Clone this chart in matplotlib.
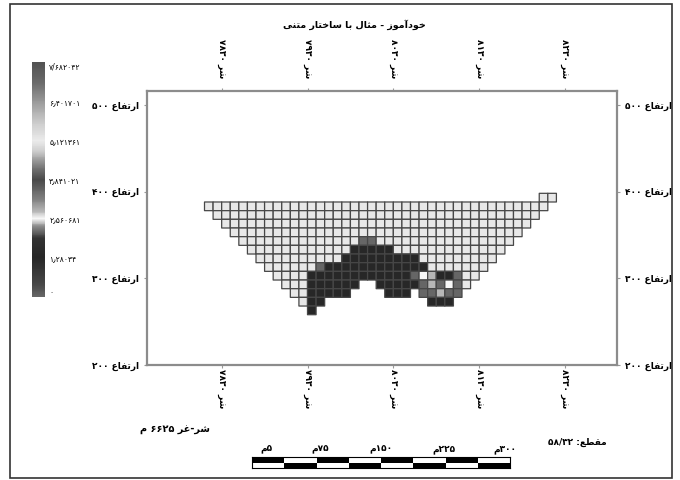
import re
import numpy as np
import matplotlib
matplotlib.use("Agg")
import matplotlib.pyplot as plt
from matplotlib.colors import LinearSegmentedColormap, Normalize
from matplotlib.patches import Rectangle

plt.rcParams['font.family'] = ['DejaVu Sans']

# ---- data -------------------------------------------------------------
title = "خودآموز - مثال با ساختار متنی"
x_ticks = [7830, 7930, 8030, 8130, 8230]
x_tick_labels = ["شر ۷۸۳۰", "شر ۷۹۳۰", "شر ۸۰۳۰", "شر ۸۱۳۰", "شر ۸۲۳۰"]
y_ticks = [200, 300, 400, 500]
y_tick_labels = ["ارتفاع ۲۰۰", "ارتفاع ۳۰۰", "ارتفاع ۴۰۰", "ارتفاع ۵۰۰"]
cbar_ticks = [0, 1.28034, 2.560681, 3.841021, 5.121361, 6.401701, 7.682042]
cbar_labels = ["۰", "۱٫۲۸۰۳۴", "۲٫۵۶۰۶۸۱", "۳٫۸۴۱۰۲۱", "۵٫۱۲۱۳۶۱", "۶٫۴۰۱۷۰۱", "۷/۶۸۲۰۴۲"]
scale_labels = ["۵م", "۷۵م", "۱۵۰م", "۲۲۵م", "۳۰۰م"]
length_text = "شر-غر ۶۶۲۵ م"
section_text = "مقطع: ۵۸/۳۲"

# cell grid: 10 m cells, first column at x=7810, top row starts at y=398
x0, y_top, cell = 7810, 398, 10
grid_rows = [
    "......................................." + "LL",
    "LLLLLLLLLLLLLLLLLLLLLLLLLLLLLLLLLLLLLLLL" + ".",
    "." + "L" * 38 + "..",
    ".." + "L" * 36 + "...",
    "..." + "L" * 34 + "....",
    "...." + "L" * 14 + "GG" + "L" * 16 + ".....",
    "....." + "L" * 12 + "DDDDD" + "L" * 13 + "......",
    "......" + "L" * 10 + "DDDDDDDDD" + "L" * 9 + ".......",
    "......." + "LLLLLL" + "G" + "D" * 12 + "L" * 7 + "........",
    "........" + "LLLL" + "D" * 12 + "GWgDDG" + "LL" + ".........",
    "........." + "LLL" + "DDDDDD" + ".." + "DDDDD" + "GgGWG" + "L" + "..........",
    ".........." + "LL" + "DDDDD" + "...." + "DDD" + "." + "GGgGG" + "...........",
    "..........." + "L" + "DD" + "." * 12 + "DDD" + "............",
    "............" + "D" + "." * 28,
]
code_values = {"L": 5.1, "D": 1.28, "G": 3.5, "g": 2.8, "W": 2.56}

# colour ramp of the legend (value, grey level)
ramp_vals = [0, 0.4, 1.28, 1.9, 2.3, 2.56, 2.8, 3.2, 3.84, 4.3, 4.8, 5.12, 5.7, 6.4, 7.0, 7.682042]
ramp_grey = [0.40, 0.28, 0.15, 0.20, 0.55, 0.97, 0.72, 0.50, 0.28, 0.50, 0.82, 0.92, 0.80, 0.60, 0.42, 0.32]

# ---- persian text helper (matplotlib draws glyphs left to right, unjoined) ----
FORMS = {
    'ا': ('\uFE8D', '\uFE8E', None, None), 'آ': ('\uFE81', '\uFE82', None, None),
    'ب': ('\uFE8F', '\uFE90', '\uFE91', '\uFE92'), 'ت': ('\uFE95', '\uFE96', '\uFE97', '\uFE98'),
    'ث': ('\uFE99', '\uFE9A', '\uFE9B', '\uFE9C'), 'خ': ('\uFEA5', '\uFEA6', '\uFEA7', '\uFEA8'),
    'د': ('\uFEA9', '\uFEAA', None, None), 'ر': ('\uFEAD', '\uFEAE', None, None),
    'ز': ('\uFEAF', '\uFEB0', None, None), 'س': ('\uFEB1', '\uFEB2', '\uFEB3', '\uFEB4'),
    'ش': ('\uFEB5', '\uFEB6', '\uFEB7', '\uFEB8'), 'ط': ('\uFEC1', '\uFEC2', '\uFEC3', '\uFEC4'),
    'ع': ('\uFEC9', '\uFECA', '\uFECB', '\uFECC'), 'غ': ('\uFECD', '\uFECE', '\uFECF', '\uFED0'),
    'ف': ('\uFED1', '\uFED2', '\uFED3', '\uFED4'), 'ق': ('\uFED5', '\uFED6', '\uFED7', '\uFED8'),
    'ل': ('\uFEDD', '\uFEDE', '\uFEDF', '\uFEE0'), 'م': ('\uFEE1', '\uFEE2', '\uFEE3', '\uFEE4'),
    'ن': ('\uFEE5', '\uFEE6', '\uFEE7', '\uFEE8'), 'و': ('\uFEED', '\uFEEE', None, None),
    'ی': ('\uFBFC', '\uFBFD', '\uFBFE', '\uFBFF'),
}


def fa(s):
    out = []
    for i, ch in enumerate(s):
        f = FORMS.get(ch)
        if f is None:
            out.append(ch)
            continue
        prev = s[i - 1] if i > 0 else ''
        nxt = s[i + 1] if i + 1 < len(s) else ''
        pj = prev in FORMS and FORMS[prev][2] is not None
        nj = f[2] is not None and nxt in FORMS
        out.append(f[3] if pj and nj else f[1] if pj else f[2] if nj else f[0])
    vis = ''.join(out)[::-1]
    return re.sub(r'[۰-۹][۰-۹/٫,]*', lambda m: m.group(0)[::-1], vis)


# ---- build grid -------------------------------------------------------
ncol = len(grid_rows[0])
Z = np.full((len(grid_rows), ncol), np.nan)
for r, row in enumerate(grid_rows):
    assert len(row) == ncol, (r, len(row))
    for c, ch in enumerate(row):
        if ch in code_values:
            Z[r, c] = code_values[ch]
xe = x0 + cell * np.arange(ncol + 1)
ye = y_top - cell * np.arange(len(grid_rows) + 1)

cmap = LinearSegmentedColormap.from_list(
    "legend", [(v / ramp_vals[-1], (g, g, g)) for v, g in zip(ramp_vals, ramp_grey)])
norm = Normalize(0, ramp_vals[-1])

W, H = 680, 480
fig = plt.figure(figsize=(6.8, 4.8), dpi=100)


def box(l, t, r, b):
    return [l / W, 1 - b / H, (r - l) / W, (b - t) / H]


ax = fig.add_axes(box(147, 91, 617, 365))
ax.pcolor(xe, ye, np.ma.masked_invalid(Z), cmap=cmap, norm=norm,
          edgecolors='#474747', linewidth=0.9)
ax.set_xlim(7743, 8290.6)
ax.set_ylim(200, 516)

ax.set_yticks(y_ticks)
ax.set_yticklabels([fa(t) for t in y_tick_labels], fontsize=6.5, weight='bold')
ax.tick_params(axis='y', left=True, right=True, labelleft=True, labelright=True,
               length=2, width=0.8, color='#999999', pad=4)
ax.set_xticks(x_ticks)
ax.set_xticklabels([fa(t) for t in x_tick_labels], rotation=-90, fontsize=6.5, weight='bold')
ax.tick_params(axis='x', length=2, width=0.8, color='#999999', pad=1)
top = ax.secondary_xaxis('top')
top.set_xticks(x_ticks)
top.set_xticklabels([fa(t) for t in x_tick_labels], rotation=-90, fontsize=6.5, weight='bold')
top.tick_params(axis='x', length=2, width=0.8, color='#999999', pad=7)
top.spines['top'].set_visible(False)
for sp in ax.spines.values():
    sp.set_color('#8c8c8c')
    sp.set_linewidth(1.6)

# legend bar
cax = fig.add_axes(box(32, 62, 45, 297))
cb = fig.colorbar(plt.cm.ScalarMappable(norm=norm, cmap=cmap), cax=cax)
cb.outline.set_visible(False)
cb.set_ticks(cbar_ticks)
cb.set_ticklabels(cbar_labels)
cax.tick_params(length=0, labelsize=5.5, pad=3)
lbls = cax.get_yticklabels()
lbls[0].set_verticalalignment('bottom')
lbls[-1].set_verticalalignment('top')

fig.text(354 / W, 1 - 25 / H, fa(title), ha='center', va='center', fontsize=6.8, weight='bold')
fig.text(210 / W, 1 - 430 / H, fa(length_text), ha='right', va='center', fontsize=7, weight='bold')
fig.text(548 / W, 1 - 442 / H, fa(section_text), ha='left', va='center', fontsize=6.5, weight='bold')

# scale bar
sb = fig.add_axes(box(252, 457, 510, 468))
nseg = 8
for i in range(nseg):
    topc, botc = ('black', 'white') if i % 2 == 0 else ('white', 'black')
    sb.bar(i, 1, bottom=1, width=1, align='edge', color=topc, edgecolor='none')
    sb.bar(i, 1, bottom=0, width=1, align='edge', color=botc, edgecolor='none')
sb.set_xlim(0, nseg)
sb.set_ylim(0, 2)
sb.set_xticks([])
sb.set_yticks([])
for sp in sb.spines.values():
    sp.set_linewidth(0.8)
scale_pos = [0.45, 2.1, 4.0, 5.95, 7.85]
for p, t in zip(scale_pos, scale_labels):
    sb.text(p, 2.6, fa(t), ha='center', va='bottom', fontsize=6.5, weight='bold')

# outer frame
fig.add_artist(Rectangle((10 / W, 2 / H), 662 / W, 474 / H, transform=fig.transFigure,
                         fill=False, edgecolor='#333333', linewidth=1.2))

fig.savefig("out.png", dpi=100)
